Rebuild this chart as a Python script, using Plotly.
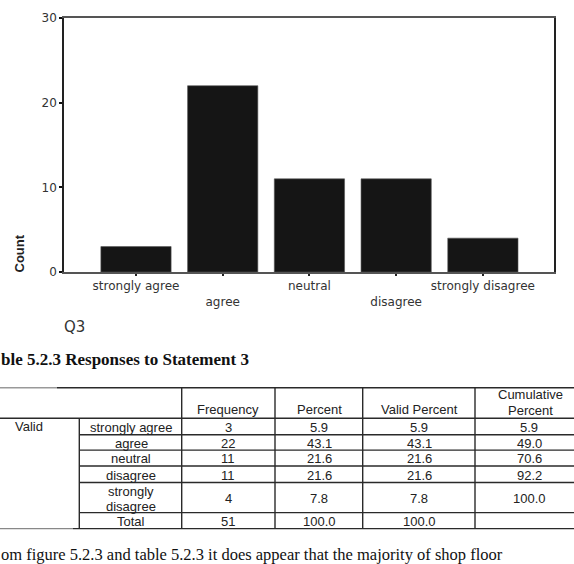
import plotly.graph_objects as go

# ---- data ----
categories = ["strongly agree", "agree", "neutral", "disagree", "strongly disagree"]
counts = [3, 22, 11, 11, 4]
percent = [5.9, 43.1, 21.6, 21.6, 7.8]
valid_percent = [5.9, 43.1, 21.6, 21.6, 7.8]
cumulative = [5.9, 49.0, 70.6, 92.2, 100.0]
total_count = 51
total_percent = 100.0
y_ticks = [0, 10, 20, 30]
table_headers = ["Frequency", "Percent", "Valid Percent", "Cumulative<br>Percent"]
table_row_labels = ["strongly agree", "agree", "neutral", "disagree", "strongly<br>disagree"]

# ---- layout geometry (pixels) ----
FW, FH = 574, 564
ML, MR, MT, MB = 64, 20, 11, 292
PW, PH = FW - ML - MR, FH - MT - MB


def xp(px):
    return (px - ML) / PW


def yp(py):
    return (FH - MB - py) / PH


fig = go.Figure()
fig.add_trace(go.Bar(
    x=categories, y=counts,
    marker=dict(color="#151515", line=dict(width=0.6, color="#555555")),
    width=0.81,
    hoverinfo="skip",
))

ticktext = [c if i % 2 == 0 else "<br>" + c for i, c in enumerate(categories)]

fig.update_xaxes(
    type="category", range=[-0.83, 4.82],
    tickvals=categories, ticktext=ticktext,
    showline=True, linecolor="#555555", linewidth=1.5, mirror=True,
    ticks="outside", ticklen=2, tickwidth=2, tickcolor="#222222",
    tickfont=dict(family="DejaVu Sans", size=12, color="#333333"),
    showgrid=False, zeroline=False,
)
fig.update_yaxes(
    range=[0, 30], tickvals=y_ticks,
    showline=True, linecolor="#222222", linewidth=1.5, mirror=True,
    ticks="outside", ticklen=3, tickwidth=2, tickcolor="#111111",
    tickfont=dict(family="DejaVu Sans", size=12, color="#333333"),
    showgrid=False, zeroline=False,
)

annotations = []
shapes = []


def text(px, py, s, size=13, family="Liberation Sans", color="#222222", anchor="center", bold=False, angle=0):
    if bold:
        s = "<b>" + s + "</b>"
    annotations.append(dict(
        xref="paper", yref="paper", x=xp(px), y=yp(py), text=s,
        showarrow=False, xanchor=anchor, yanchor="middle", textangle=angle,
        font=dict(family=family, size=size, color=color), borderpad=0,
    ))


def cell(px, py, s, size=13, gap=15.5):
    """Cell text; multi-line text is stacked with a tight line gap."""
    parts = s.split("<br>")
    n = len(parts)
    for k, p in enumerate(parts):
        text(px, py + (k - (n - 1) / 2) * gap + 1, p, size=size)


def hline(py, x0, x1, color="#2a2a2a", w=1.4):
    shapes.append(dict(type="line", xref="paper", yref="paper",
                       x0=xp(x0), x1=xp(x1), y0=yp(py), y1=yp(py),
                       line=dict(color=color, width=w)))


def vline(px, y0, y1, color="#2a2a2a", w=1.4):
    shapes.append(dict(type="line", xref="paper", yref="paper",
                       x0=xp(px), x1=xp(px), y0=yp(y0), y1=yp(y1),
                       line=dict(color=color, width=w)))


# chart texts
text(20, 253, "Count", size=13, family="Liberation Sans", bold=True, angle=-90, color="#222222")
text(63, 328.5, "Q3", size=15, family="DejaVu Sans", anchor="left", color="#333333")

# title
text(0, 361.5, "ble 5.2.3 Responses to Statement 3", size=17, family="Liberation Serif",
     anchor="left", bold=True, color="#111111")

# table grid
col_x = [79.3, 181.7, 275, 362.7, 475]
row_y = [391, 422.3, 439.3, 455, 471.3, 488.3, 519.3, 535.7]
hline(row_y[0], 0, 57, color="#999999")
hline(row_y[0], 57, FW)
hline(row_y[1], 0, FW)
for ry in row_y[2:-1]:
    hline(ry, col_x[0], FW)
hline(row_y[-1], 0, 73, color="#888888")
hline(row_y[-1], 73, FW)
vline(col_x[0], row_y[1], row_y[-1])
for cx in col_x[1:]:
    vline(cx, row_y[0], row_y[-1])

# header texts
label_x, freq_x, pct_x, vpct_x, cum_x = 131, 228, 319, 419, 529
hdr_x = [freq_x, pct_x, vpct_x, 530]
for hx, h in zip(hdr_x, table_headers):
    if "<br>" in h:
        cell(hx, 405.3, h, gap=16)
    else:
        cell(hx, 412.5, h)

# body texts
cell(29, 430, "Valid")
for i in range(len(categories)):
    cy = (row_y[i + 1] + row_y[i + 2]) / 2
    cell(label_x, cy, table_row_labels[i])
    cell(freq_x, cy, str(counts[i]))
    cell(pct_x, cy, f"{percent[i]:.1f}")
    cell(vpct_x, cy, f"{valid_percent[i]:.1f}")
    cell(cum_x, cy, f"{cumulative[i]:.1f}")
cy = (row_y[-2] + row_y[-1]) / 2
cell(label_x, cy, "Total")
cell(freq_x, cy, str(total_count))
cell(pct_x, cy, f"{total_percent:.1f}")
cell(vpct_x, cy, f"{total_percent:.1f}")

# bottom paragraph text
text(0, 562.5, "om figure 5.2.3 and table 5.2.3 it does appear that the majority of shop floor",
     size=16.5, family="Liberation Serif", anchor="left", color="#111111")

fig.update_layout(
    width=FW, height=FH,
    margin=dict(l=ML, r=MR, t=MT, b=MB, pad=0),
    paper_bgcolor="white", plot_bgcolor="white",
    showlegend=False, bargap=0.19,
    annotations=annotations, shapes=shapes,
)

fig.write_html("out.html")
